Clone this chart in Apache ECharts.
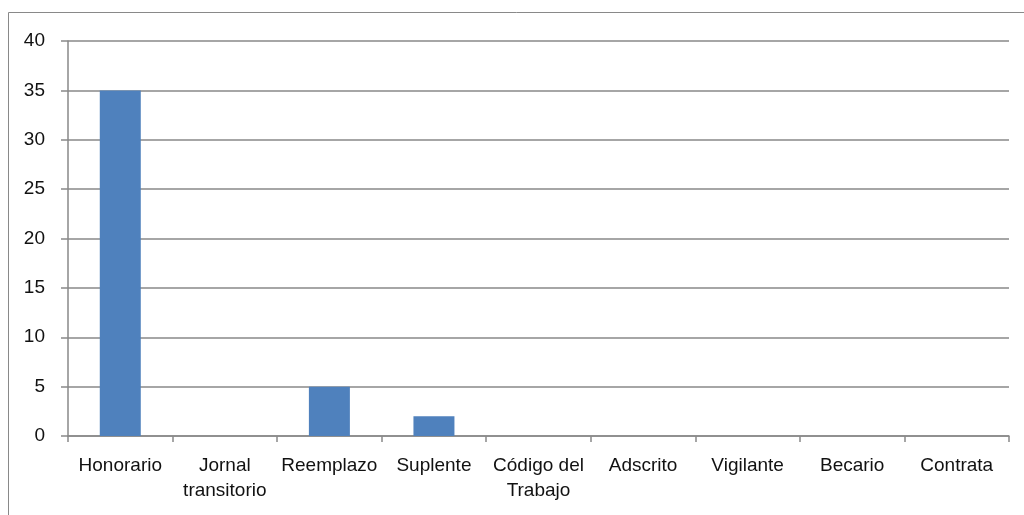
<!DOCTYPE html>
<html>
<head>
<meta charset="utf-8">
<script src="https://cdn.jsdelivr.net/npm/echarts@6/dist/echarts.min.js"></script>
<style>
    html, body { margin: 0; padding: 0; background: #fff; }
    #chart { width: 1024px; height: 515px; }
</style>
</head>
<body>
<div id="chart"></div>
<script>
    // categorias y valores
    var categories = ['Honorario', 'Jornal\ntransitorio', 'Reemplazo', 'Suplente', 'Código del\nTrabajo', 'Adscrito', 'Vigilante', 'Becario', 'Contrata'];
    var values = [35, 0, 5, 2, 0, 0, 0, 0, 0];
    var yTicks = [0, 5, 10, 15, 20, 25, 30, 35, 40];

    var chart = echarts.init(document.getElementById('chart'));
    var gray = '#898989';
    var font = '"Liberation Sans", Arial, sans-serif';

    chart.setOption({
        animation: false,
        graphic: [
            {
                type: 'rect',
                shape: {x: 8.5, y: 12.5, width: 1030, height: 520},
                style: {fill: null, stroke: gray, lineWidth: 1}
            }
        ],
        grid: {
            left: 68,
            right: 15,
            top: 41,
            bottom: 79,
            containLabel: false
        },
        xAxis: {
            type: 'category',
            data: categories,
            boundaryGap: true,
            axisLine: {lineStyle: {color: gray, width: 1.5}},
            axisTick: {show: true, length: 6, lineStyle: {color: gray, width: 1.5}},
            axisLabel: {
                interval: 0,
                margin: 17,
                color: '#111',
                fontSize: 19,
                lineHeight: 25,
                fontFamily: font
            },
            splitLine: {show: false}
        },
        yAxis: {
            type: 'value',
            min: yTicks[0],
            max: yTicks[yTicks.length - 1],
            interval: 5,
            axisLine: {show: true, lineStyle: {color: gray, width: 1.5}},
            axisTick: {show: true, length: 7, lineStyle: {color: gray, width: 1.5}},
            axisLabel: {
                margin: 23,
                color: '#111',
                fontSize: 19,
                fontFamily: font
            },
            splitLine: {show: true, lineStyle: {color: gray, width: 1.5}}
        },
        series: [
            {
                type: 'bar',
                data: values,
                barWidth: 41,
                itemStyle: {color: '#4F81BD', borderColor: '#B9CDE5', borderWidth: 0}
            }
        ]
    });
</script>
</body>
</html>
